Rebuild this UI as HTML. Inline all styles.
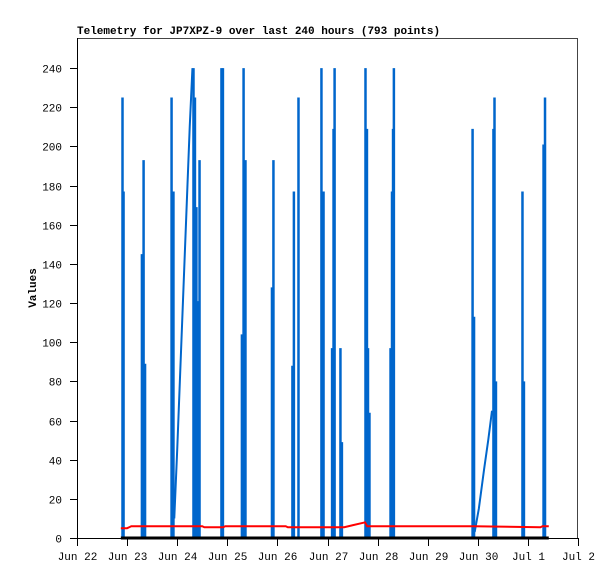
<!DOCTYPE html>
<html><head><meta charset="utf-8"><style>
body{margin:0;background:#fff}
svg{display:block}
text{font-family:"Liberation Mono","DejaVu Sans Mono",monospace;font-size:11px;fill:#000}
</style></head><body>
<svg id="chart" width="615" height="579" xmlns="http://www.w3.org/2000/svg">
<rect x="0" y="0" width="615" height="579" fill="#fff"/>
<text x="77" y="34" font-weight="bold" font-size="12">Telemetry for JP7XPZ-9 over last 240 hours (793 points)</text>
<text transform="translate(36,288) rotate(-90)" text-anchor="middle" font-weight="bold">Values</text>
<g id="grid"></g>
<g id="series"></g>
<rect x="77.5" y="38.5" width="500" height="500" fill="none" stroke="#444" stroke-width="1"/>
<g id="axes"></g>
</svg>
<script>
const yTicks=[0,20,40,60,80,100,120,140,160,180,200,220,240];
const xTickLabels=["Jun 22","Jun 23","Jun 24","Jun 25","Jun 26","Jun 27","Jun 28","Jun 29","Jun 30","Jul 1","Jul 2"];
const spikeHours=[21.8,22.3,31.1,31.9,32.6,45.3,46.2,55.8,56.5,57.2,58.0,58.7,69.2,69.9,79.0,79.8,80.7,93.4,94.1,103.2,103.9,106.1,117.1,118.1,122.2,122.9,123.4,126.2,126.9,138.2,138.9,139.4,140.1,150.2,150.9,151.4,151.8,189.5,190.2,199.5,200.0,200.7,213.4,214.1,223.5,224.2];
const spikeValues=[225,177,145,193,89,225,177,240,225,169,121,193,240,240,104,240,193,128,193,88,177,225,240,177,97,209,240,97,49,240,209,97,64,97,177,209,240,209,113,209,225,80,177,80,201,225];
const ramp1Hours=[46.6,48,50,52,54,55.3];
const ramp1Values=[10,45,100,155,210,240];
const ramp2Hours=[190.5,192.5,195,197,198.8];
const ramp2Values=[3,15,35,50,65];
const redHours=[21,24,25,26,60,61,70,71,100,101,128,132,136,138,139,140,190,222,223,226];
const redValues=[5,5,5.5,6,6,5.5,5.5,6,6,5.5,5.5,6.5,7.5,8,6,6,6,5.5,6,6];
const blackHours=[21,226];
const blackValues=[0,0];

const X0=77,X1=578,Y0=538,Y1=38,YMAX=255.4,HMAX=240;
const xs=h=>X0+(X1-X0)*h/HMAX;
const ys=v=>Y0-(Y0-Y1)*v/YMAX;
const NS="http://www.w3.org/2000/svg";
function mk(tag,attrs,parent){const e=document.createElementNS(NS,tag);for(const k in attrs)e.setAttribute(k,attrs[k]);parent.appendChild(e);return e;}
const axes=document.getElementById('axes'),series=document.getElementById('series');
// y axis
let ya=mk('line',{x1:77.5,y1:38,x2:77.5,y2:539,stroke:'#000','stroke-width':1},axes);


yTicks.forEach(v=>{
  const y=Math.round(ys(v))+0.5;
  const t=mk('line',{x1:70,y1:y,x2:77,y2:y,stroke:'#000'},axes);
  
  
  const l=mk('text',{x:62,y:y+4,'text-anchor':'end'},axes);l.textContent=v;
  
  
});
xTickLabels.forEach((s,i)=>{
  const x=Math.round(xs(i*24))+0.5;
  const t=mk('line',{x1:x,y1:538,x2:x,y2:546,stroke:'#000'},axes);
  
  
  const l=mk('text',{x:x,y:560,'text-anchor':'middle'},axes);l.textContent=s;
  
  
});
let xa=mk('line',{x1:77,y1:538.5,x2:578,y2:538.5,stroke:'#000','stroke-width':1},axes);


// blue spikes
spikeHours.forEach((h,i)=>{
  const x=xs(h);
  const b=mk('line',{x1:x,y1:ys(0),x2:x,y2:ys(spikeValues[i]),stroke:'#0066cc','stroke-width':2.5},series);
  
  
});
function poly(hs,vs,color,w,name){
  const p=mk('polyline',{points:hs.map((h,i)=>xs(h)+','+ys(vs[i])).join(' '),fill:'none',stroke:color,'stroke-width':w},series);
  
  
}
poly(ramp1Hours,ramp1Values,'#0066cc',2,'blue-ramp-1');
poly(ramp2Hours,ramp2Values,'#0066cc',2,'blue-ramp-2');
poly(redHours,redValues,'#ff0000',2,'red-series');
poly(blackHours,blackValues,'#000000',3,'black-series');
</script>
</body></html>
